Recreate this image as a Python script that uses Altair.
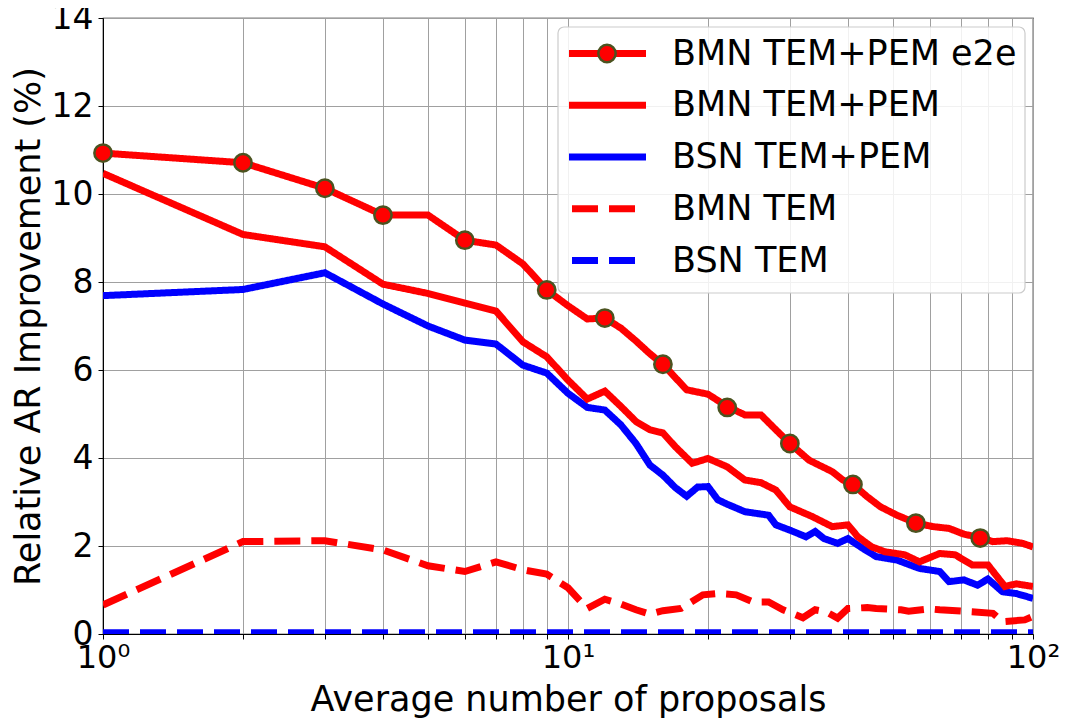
import altair as alt
import pandas as pd

# ---- series definitions ----
names = ["BMN TEM+PEM e2e", "BMN TEM+PEM", "BSN TEM+PEM", "BMN TEM", "BSN TEM"]
colors = ["#ff0000", "#ff0000", "#0000ff", "#ff0000", "#0000ff"]
dashes = [[1, 0], [1, 0], [1, 0], [26, 11], [26, 11]]

# BMN TEM+PEM e2e
x_e2e = [1, 2, 3, 4, 5, 6, 7, 8, 9, 10, 11, 12, 13, 14, 15, 16, 17, 18, 20, 22,
         24, 26, 28, 30, 33, 37, 39, 41, 44, 47, 51, 56, 61, 66, 71, 77, 82, 88, 95, 100]
y_e2e = [10.93, 10.71, 10.13, 9.52, 9.52, 8.95, 8.84, 8.41, 7.82, 7.46, 7.16, 7.18, 6.95, 6.66,
         6.37, 6.13, 5.83, 5.55, 5.45, 5.17, 4.98, 4.98, 4.64, 4.33, 3.95, 3.69, 3.50, 3.40,
         3.12, 2.89, 2.70, 2.52, 2.44, 2.40, 2.27, 2.19, 2.10, 2.12, 2.06, 1.98]
marker_x = [1, 2, 3, 4, 6, 9, 12, 16, 22, 30, 41, 56, 77]
marker_y = [10.93, 10.71, 10.13, 9.52, 8.95, 7.82, 7.18, 6.13, 5.15, 4.33, 3.40, 2.52, 2.18]

# BMN TEM+PEM
x_bmn_tp = [1, 2, 3, 4, 5, 6, 7, 8, 9, 10, 11, 12, 13, 14, 15, 16, 17, 18.5, 20, 22,
            24, 26, 28, 30, 33.5, 37, 40, 42, 45, 48, 53, 57, 63, 68, 74, 80, 87, 92, 100]
y_bmn_tp = [10.47, 9.08, 8.80, 7.95, 7.74, 7.52, 7.34, 6.64, 6.30, 5.77, 5.34, 5.52, 5.17, 4.83,
            4.64, 4.57, 4.26, 3.88, 3.99, 3.80, 3.50, 3.44, 3.27, 2.89, 2.67, 2.44, 2.48, 2.21,
            1.98, 1.87, 1.80, 1.64, 1.83, 1.80, 1.57, 1.57, 1.08, 1.14, 1.08]

# BSN TEM+PEM
x_bsn_tp = [1, 2, 3, 4, 5, 6, 7, 8, 9, 10, 11, 12, 13, 14, 15, 16, 17, 18, 19, 20, 21, 22,
            24, 27, 28, 30, 32.5, 34, 35.5, 38, 40, 43, 46, 51, 57, 63, 66, 71, 76, 80, 86, 92, 100]
y_bsn_tp = [7.69, 7.83, 8.21, 7.50, 7.00, 6.68, 6.59, 6.11, 5.93, 5.47, 5.15, 5.09, 4.75, 4.33,
            3.84, 3.61, 3.33, 3.13, 3.34, 3.35, 3.05, 2.95, 2.78, 2.70, 2.48, 2.36, 2.21, 2.33,
            2.17, 2.06, 2.17, 1.95, 1.76, 1.68, 1.49, 1.42, 1.19, 1.23, 1.11, 1.25, 0.96, 0.92, 0.81]

# BMN TEM
x_bmn_t = [1, 2, 3, 4, 5, 6, 7, 8, 9, 10, 11, 12, 13, 14, 15, 16, 17.5, 19.5, 21, 23,
           25, 27, 29, 32, 34, 36, 38, 40, 44, 46, 52, 54, 60, 63, 70, 75, 82, 86, 96, 100]
y_bmn_t = [0.66, 2.10, 2.12, 1.91, 1.55, 1.42, 1.64, 1.46, 1.36, 1.05, 0.58, 0.79, 0.68, 0.55,
           0.45, 0.53, 0.58, 0.89, 0.92, 0.89, 0.73, 0.73, 0.55, 0.37, 0.55, 0.50, 0.36, 0.58,
           0.60, 0.58, 0.55, 0.52, 0.57, 0.55, 0.52, 0.50, 0.47, 0.28, 0.32, 0.40]

# BSN TEM
x_bsn_t = [1, 10, 100]
y_bsn_t = [0.03, 0.03, 0.03]

x_ticks = [1, 2, 3, 4, 5, 6, 7, 8, 9, 10, 20, 30, 40, 50, 60, 70, 80, 90, 100]
y_ticks = [0, 2, 4, 6, 8, 10, 12, 14]

FONT = "DejaVu Sans"

series_data = {
    names[0]: (x_e2e, y_e2e),
    names[1]: (x_bmn_tp, y_bmn_tp),
    names[2]: (x_bsn_tp, y_bsn_tp),
    names[3]: (x_bmn_t, y_bmn_t),
    names[4]: (x_bsn_t, y_bsn_t),
}

xscale = alt.Scale(type="log", domain=[1, 100], nice=False)
yscale = alt.Scale(domain=[0, 14], nice=False)
color_scale = alt.Scale(domain=names, range=colors)
dash_scale = alt.Scale(domain=names, range=dashes)

x_axis = alt.Axis(
    values=x_ticks,
    labelExpr="datum.value == 1 ? '10\u2070' : datum.value == 10 ? '10\u00b9' : datum.value == 100 ? '10\u00b2' : ''",
    labelFlush=False, labelOverlap=False, labelBound=False,
    labelFontSize=32, titleFontSize=35, tickSize=5, labelPadding=3, titlePadding=9,
    grid=True,
)
y_axis = alt.Axis(
    values=y_ticks, labelFontSize=33, titleFontSize=35, tickSize=5, labelPadding=5,
    titlePadding=5, grid=True,
)
x_enc = alt.X("x:Q", scale=xscale, axis=x_axis, title="Average number of proposals")
y_enc = alt.Y("y:Q", scale=yscale, axis=y_axis, title="Relative AR Improvement (%)")


def line_layer(name):
    xs, ys = series_data[name]
    df = pd.DataFrame({"series": name, "x": xs, "y": ys})
    return alt.Chart(df).mark_line(strokeWidth=7, clip=True, strokeCap="butt").encode(
        x=x_enc,
        y=y_enc,
        color=alt.Color("series:N", scale=color_scale, legend=None),
        strokeDash=alt.StrokeDash("series:N", scale=dash_scale, legend=None),
    )


# drawing order: blue first, red on top, e2e last
order = [names[4], names[2], names[3], names[1], names[0]]
layers = [line_layer(n) for n in order]

marker_df = pd.DataFrame({"x": marker_x, "y": marker_y})
markers = alt.Chart(marker_df).mark_point(
    shape="circle", filled=True, size=300, fill="#ff0000", stroke="#4b5320",
    strokeWidth=2.5, opacity=1,
).encode(x=x_enc, y=y_enc)

main = alt.layer(*layers, markers)

# ---- legend (built from the same series definitions) ----
leg_df = pd.DataFrame({"series": names, "row": list(range(len(names))),
                       "dashed": [d != [1, 0] for d in dashes]})
row_y = alt.Y("row:Q", scale=alt.Scale(domain=[0, 4], range=[35.5, 242.5]), axis=None)

leg_bg = alt.Chart(pd.DataFrame({"a": [0]})).mark_rect(
    fill="white", fillOpacity=0.85, stroke="#cccccc", strokeWidth=1.2, cornerRadius=6,
).encode(x=alt.value(455), x2=alt.value(922), y=alt.value(9), y2=alt.value(275))

leg_solid = alt.Chart(leg_df).transform_filter("!datum.dashed").mark_rule(
    strokeWidth=7, strokeCap="butt"
).encode(
    x=alt.value(466), x2=alt.value(543), y=row_y,
    color=alt.Color("series:N", scale=color_scale, legend=None),
    strokeDash=alt.StrokeDash("series:N", scale=dash_scale, legend=None),
)
leg_dashed = alt.Chart(leg_df).transform_filter("datum.dashed").mark_rule(
    strokeWidth=7, strokeCap="butt"
).encode(
    x=alt.value(469), x2=alt.value(532), y=row_y,
    color=alt.Color("series:N", scale=color_scale, legend=None),
    strokeDash=alt.StrokeDash("series:N", scale=dash_scale, legend=None),
)
leg_marker = alt.Chart(leg_df).transform_filter("datum.row == 0").mark_point(
    shape="circle", filled=True, size=300, fill="#ff0000", stroke="#4b5320",
    strokeWidth=2.5, opacity=1,
).encode(x=alt.value(504), y=row_y)
leg_text = alt.Chart(leg_df).mark_text(
    align="left", baseline="middle", fontSize=35, font=FONT, color="black"
).encode(x=alt.value(569), y=row_y, text="series:N")

legend = alt.layer(leg_bg, leg_solid, leg_dashed, leg_marker, leg_text)

chart = alt.layer(main, legend).resolve_scale(
    y="independent", color="independent", strokeDash="independent"
).properties(
    width=930, height=616, autosize="none",
    padding={"left": 95, "top": 10, "right": 27, "bottom": 85},
).configure_view(
    stroke="black", strokeWidth=1.2
).configure_axis(
    labelFont=FONT, titleFont=FONT, labelColor="black", titleColor="black",
    titleFontWeight="normal", domainColor="black", tickColor="black",
    gridColor="#a0a0a0", gridWidth=1,
)

chart.save("out.html", embed_options={"renderer": "svg", "actions": False})
